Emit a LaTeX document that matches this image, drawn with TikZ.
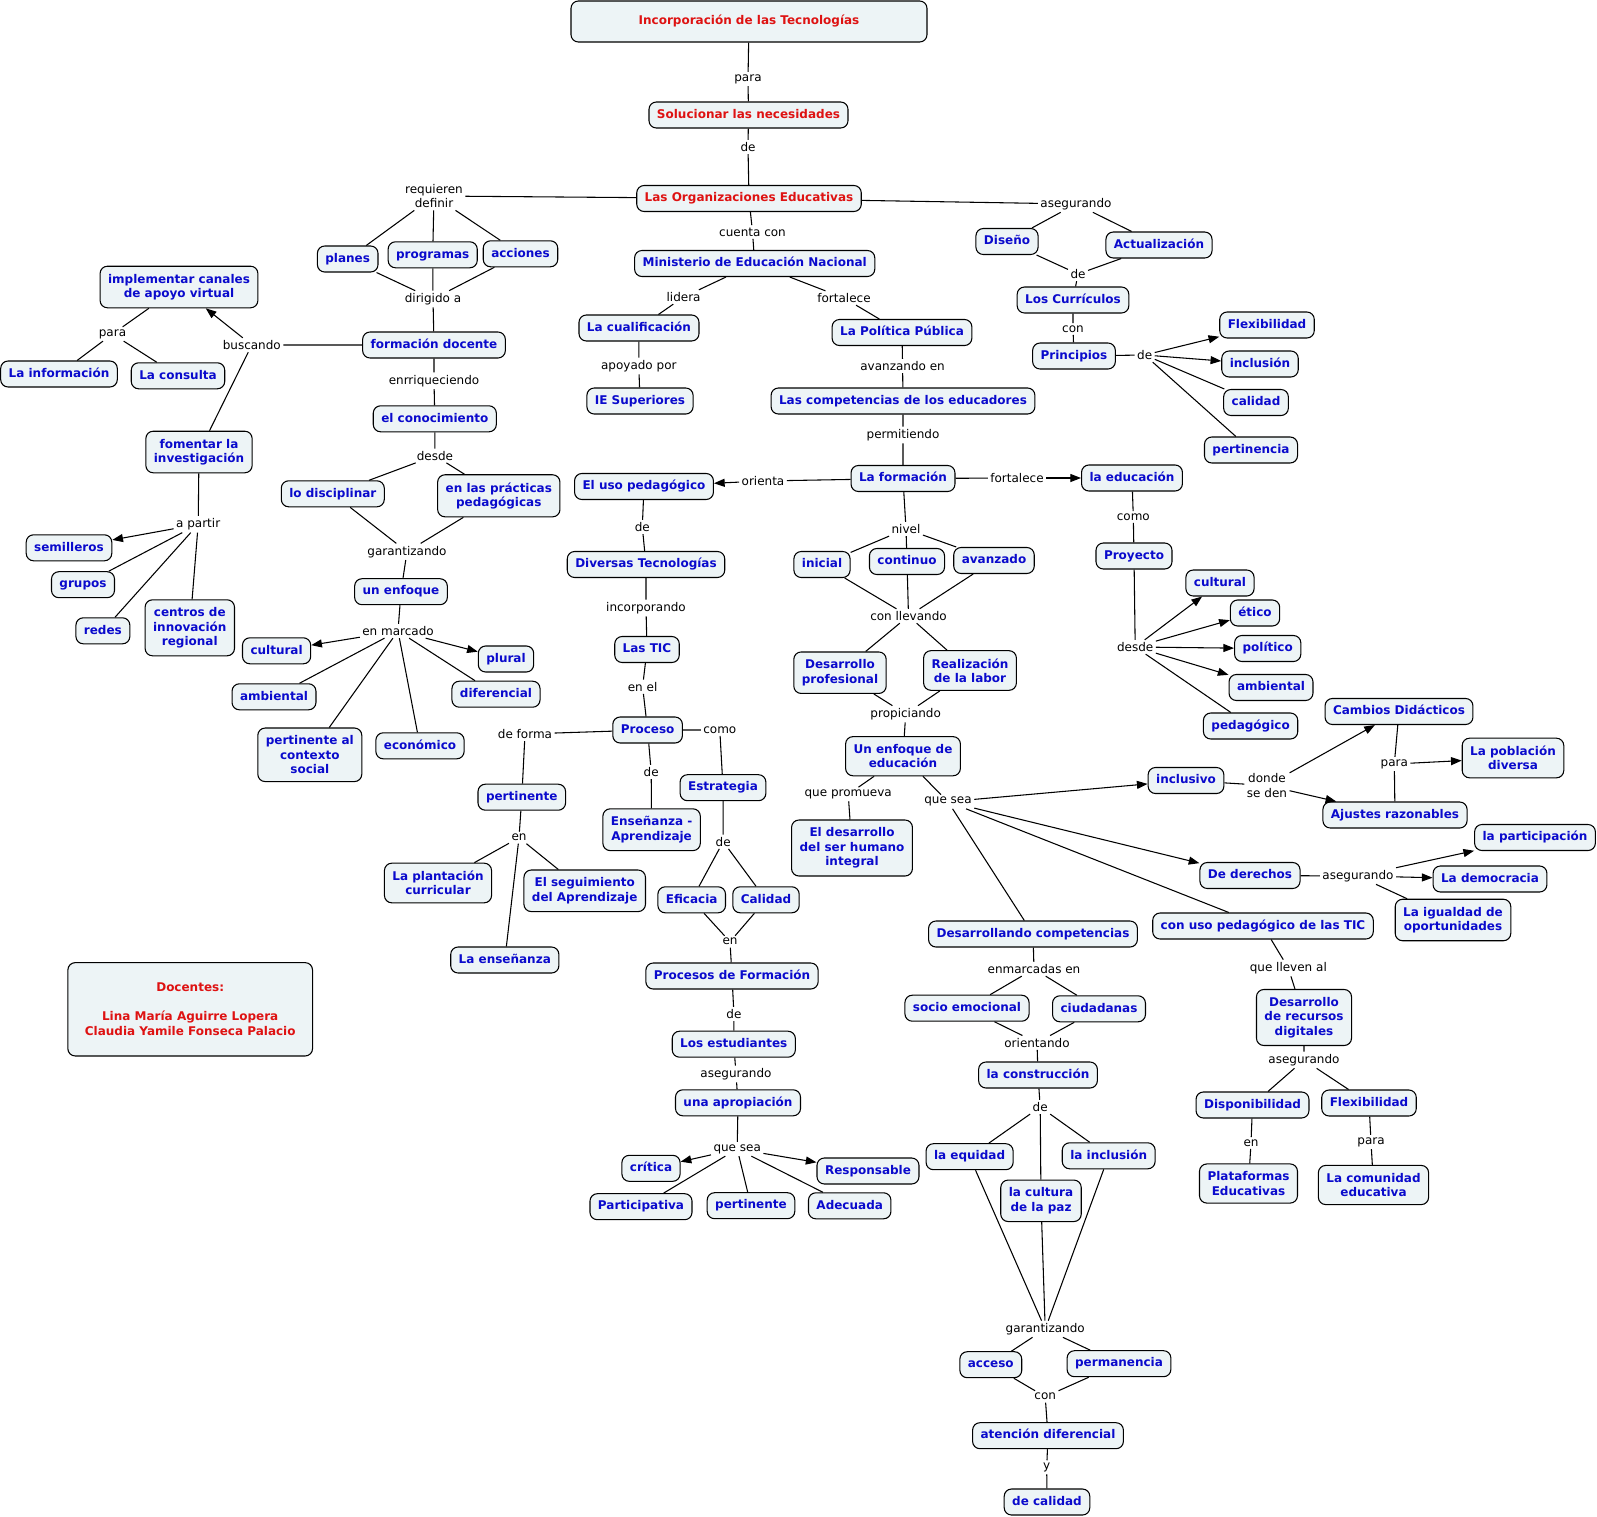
\documentclass[tikz,border=0pt]{standalone}
\usepackage{fontspec}
\setmainfont{DejaVu Sans}
\usetikzlibrary{arrows.meta}

\definecolor{cmapfill}{RGB}{237,244,246}
\definecolor{cmapblue}{RGB}{10,10,204}
\definecolor{cmapred}{RGB}{222,18,18}

\begin{document}
\begin{tikzpicture}[x=0.75pt, y=-0.75pt, line width=0.8pt, >={Triangle[length=8pt,width=6pt]},
    cbox/.style={draw, rounded corners=5.5pt, fill=cmapfill, text=cmapblue, align=center, inner xsep=6pt,
      font=\bfseries\fontsize{9}{10.8}\selectfont},
    concept/.style={cbox, text height=6.9pt, text depth=2pt, inner ysep=5.3pt},
    conceptm/.style={cbox, inner ysep=5.8pt},
    headbox/.style={concept, text=cmapred},
    link/.style={font=\fontsize{9}{10.8}\selectfont, align=center, inner sep=1.5pt}]
        \useasboundingbox (0,0) rectangle (1597,1517);

        % main trunk
        \node[headbox, minimum width=267pt, minimum height=30.75pt] (incorp) at (749,21.5) {Incorporación de las Tecnologías};
        \node[headbox] (soluc) at (748.5,115) {Solucionar las necesidades};
        \node[headbox] (orged) at (749,198.5) {Las Organizaciones Educativas};
        \node[link] (lPara1) at (748,79) {para};
        \node[link] (lDe1) at (748,147) {de};

        % left branch
        \node[link] (lReq) at (434,196) {requieren\\definir};
        \node[concept] (planes) at (347.7,259) {planes};
        \node[concept] (programas) at (432.7,254.8) {programas};
        \node[concept] (acciones) at (520.5,253.8) {acciones};
        \node[link] (lDirig) at (433,299) {dirigido a};
        \node[concept] (formdoc) at (434,345) {formación docente};
        \node[link] (lBusc) at (251.8,345) {buscando};
        \node[conceptm] (implcan) at (179,287) {implementar canales\\de apoyo virtual};
        \node[link] (lPara2) at (112.5,334) {para};
        \node[concept] (lainfo) at (59,374) {La información};
        \node[concept] (consulta) at (178,375.8) {La consulta};
        \node[conceptm] (fomentar) at (199,452) {fomentar la\\investigación};
        \node[link] (lApartir) at (198.2,524.3) {a partir};
        \node[concept] (semilleros) at (69,547.8) {semilleros};
        \node[concept] (grupos) at (83,584.7) {grupos};
        \node[concept] (redes) at (102.9,630.8) {redes};
        \node[conceptm] (centros) at (189.8,627.8) {centros de\\innovación\\regional};
        \node[link] (lEnrr) at (434,380.7) {enrriqueciendo};
        \node[concept] (conocim) at (434.8,418.8) {el conocimiento};
        \node[link] (lDesde1) at (435,455.7) {desde};
        \node[concept] (disciplinar) at (332.8,493.8) {lo disciplinar};
        \node[conceptm] (practicas) at (498.8,495.8) {en las prácticas\\pedagógicas};
        \node[link] (lGarant1) at (407,551.7) {garantizando};
        \node[concept] (unenfoque) at (401,591.7) {un enfoque};
        \node[link] (lEnmarc) at (398,631) {en marcado};
        \node[concept] (cultA) at (276.6,650.8) {cultural};
        \node[concept] (plural) at (506,659) {plural};
        \node[concept] (ambA) at (274,696.8) {ambiental};
        \node[concept] (diferencial) at (496,694.2) {diferencial};
        \node[conceptm] (pertsocial) at (309.8,754.8) {pertinente al\\contexto\\social};
        \node[concept] (economico) at (420,745.8) {económico};
        \node[conceptm, text=cmapred, minimum width=183.5pt, minimum height=70pt] (docentes) at (190.2,1009.3)
            {Docentes:\\[10.8pt]Lina María Aguirre Lopera\\Claudia Yamile Fonseca Palacio};

        % centre branch
        \node[link] (lCuenta) at (752.5,232) {cuenta con};
        \node[concept] (ministerio) at (754.7,263.5) {Ministerio de Educación Nacional};
        \node[link] (lLidera) at (683.6,297) {lidera};
        \node[link] (lFort1) at (844,298) {fortalece};
        \node[concept] (cualif) at (639,328) {La cualificación};
        \node[link] (lApoyado) at (638.8,366) {apoyado por};
        \node[concept] (iesup) at (640,401) {IE Superiores};
        \node[concept] (politica) at (902,332.5) {La Política Pública};
        \node[link] (lAvanz) at (902.6,366) {avanzando en};
        \node[concept] (competencias) at (903,401) {Las competencias de los educadores};
        \node[link] (lPermit) at (903,435) {permitiendo};
        \node[concept] (formacion) at (903,478.5) {La formación};
        \node[link] (lOrienta) at (763,481) {orienta};
        \node[concept] (usoped) at (644,486.5) {El uso pedagógico};
        \node[link] (lDe2) at (642.3,527) {de};
        \node[concept] (diversas) at (646,564.5) {Diversas Tecnologías};
        \node[link] (lIncorp) at (646,608) {incorporando};
        \node[concept] (tic) at (647,649.5) {Las TIC};
        \node[link] (lEnel) at (642.6,686.7) {en el};
        \node[concept] (proceso) at (647.6,730) {Proceso};
        \node[link] (lDeforma) at (525,734) {de forma};
        \node[concept] (pertA) at (521.8,797.2) {pertinente};
        \node[link] (lEn1) at (519,837.7) {en};
        \node[conceptm] (plantacion) at (438,883) {La plantación\\curricular};
        \node[conceptm] (seguim) at (584.7,890.8) {El seguimiento\\del Aprendizaje};
        \node[concept] (ensenanza) at (504.8,960) {La enseñanza};
        \node[link] (lDe3) at (651.2,772) {de};
        \node[conceptm] (ensapr) at (651.6,829.7) {Enseñanza -\\Aprendizaje};
        \node[link] (lComo1) at (719.8,730) {como};
        \node[concept] (estrategia) at (723,787.7) {Estrategia};
        \node[link] (lDe4) at (723.2,841.7) {de};
        \node[concept] (eficacia) at (691.7,899.8) {Eficacia};
        \node[concept] (calidadB) at (766,899.8) {Calidad};
        \node[link] (lEn2) at (730,941.7) {en};
        \node[concept] (procform) at (732,976) {Procesos de Formación};
        \node[link] (lDe5) at (733.9,1014) {de};
        \node[concept] (estudiantes) at (733.8,1044.2) {Los estudiantes};
        \node[link] (lAseg1) at (736,1074) {asegurando};
        \node[concept] (apropiacion) at (738,1102.8) {una apropiación};
        \node[link] (lQuesea1) at (737.2,1149) {que sea};
        \node[concept] (critica) at (651,1168.3) {crítica};
        \node[concept] (responsable) at (868,1171) {Responsable};
        \node[concept] (participativa) at (641,1206.7) {Participativa};
        \node[concept] (pertB) at (751,1205.7) {pertinente};
        \node[concept] (adecuada) at (849.7,1205.8) {Adecuada};

        % formation levels
        \node[link] (lNivel) at (906,529) {nivel};
        \node[concept] (inicial) at (822,564.5) {inicial};
        \node[concept] (continuo) at (907,561.5) {continuo};
        \node[concept] (avanzado) at (994,560.5) {avanzado};
        \node[link] (lConllev) at (908.5,616) {con llevando};
        \node[conceptm] (desprof) at (840,672.7) {Desarrollo\\profesional};
        \node[conceptm] (realiz) at (970,670.5) {Realización\\de la labor};
        \node[link] (lPropic) at (905.7,714) {propiciando};
        \node[conceptm] (enfedu) at (903,756.2) {Un enfoque de\\educación};
        \node[link] (lPromueva) at (848.2,794.3) {que promueva};
        \node[conceptm] (desser) at (852,848) {El desarrollo\\del ser humano\\integral};
        \node[link] (lQuesea2) at (948,801.7) {que sea};
        \node[concept] (desarcomp) at (1033,934) {Desarrollando competencias};
        \node[link] (lEnmarcadas) at (1034,969) {enmarcadas en};
        \node[concept] (socioemo) at (967,1008.2) {socio emocional};
        \node[concept] (ciudadanas) at (1099,1008.8) {ciudadanas};
        \node[link] (lOrient) at (1037,1042.7) {orientando};
        \node[concept] (construccion) at (1038,1075) {la construcción};
        \node[link] (lDe6) at (1040.2,1107) {de};
        \node[concept] (equidad) at (969.6,1156.7) {la equidad};
        \node[concept] (inclusionB) at (1108.7,1155.8) {la inclusión};
        \node[conceptm] (culturapaz) at (1041,1200.8) {la cultura\\de la paz};
        \node[link] (lGarant2) at (1045.2,1329) {garantizando};
        \node[concept] (acceso) at (990.8,1364.7) {acceso};
        \node[concept] (permanencia) at (1119,1363.7) {permanencia};
        \node[link] (lCon1) at (1045.2,1396.7) {con};
        \node[concept] (atencion) at (1048,1435.7) {atención diferencial};
        \node[link] (lY) at (1046.7,1467.3) {y};
        \node[concept] (decalidad) at (1047,1502) {de calidad};

        % right branch
        \node[link] (lAseg4) at (1076,204) {asegurando};
        \node[concept] (diseno) at (1007,241.5) {Diseño};
        \node[concept] (actualiz) at (1159,245) {Actualización};
        \node[link] (lDe7) at (1078,274) {de};
        \node[concept] (curriculos) at (1073,300) {Los Currículos};
        \node[link] (lCon2) at (1073,329) {con};
        \node[concept] (principios) at (1074,356) {Principios};
        \node[link] (lDe8) at (1144.7,355) {de};
        \node[concept] (flexA) at (1267,325) {Flexibilidad};
        \node[concept] (inclusionA) at (1260,364) {inclusión};
        \node[concept] (calidadA) at (1256,402.5) {calidad};
        \node[concept] (pertinencia) at (1251,450) {pertinencia};
        \node[link] (lFort2) at (1017,478) {fortalece};
        \node[concept] (educacion) at (1132,478) {la educación};
        \node[link] (lComo2) at (1133.3,517) {como};
        \node[concept] (proyecto) at (1134,556) {Proyecto};
        \node[link] (lDesde2) at (1135.2,647) {desde};
        \node[concept] (cultB) at (1220,583) {cultural};
        \node[concept] (etico) at (1255,613) {ético};
        \node[concept] (politico) at (1267.7,648.5) {político};
        \node[concept] (ambB) at (1271,687.5) {ambiental};
        \node[concept] (pedagogico) at (1250.6,726) {pedagógico};
        \node[concept] (inclusivo) at (1186,780.5) {inclusivo};
        \node[link] (lDonde) at (1267,785.5) {donde\\se den};
        \node[concept] (cambios) at (1399,711.5) {Cambios Didácticos};
        \node[concept] (ajustes) at (1395,815) {Ajustes razonables};
        \node[link] (lPara3) at (1394.3,764) {para};
        \node[conceptm] (poblacion) at (1513,758) {La población\\diversa};
        \node[concept] (derechos) at (1250,875.5) {De derechos};
        \node[link] (lAseg2) at (1358,876) {asegurando};
        \node[concept] (participacion) at (1535,837.5) {la participación};
        \node[concept] (democracia) at (1490,879) {La democracia};
        \node[conceptm] (igualdad) at (1453,920) {La igualdad de\\oportunidades};
        \node[concept] (usotic) at (1263,926) {con uso pedagógico de las TIC};
        \node[link] (lLleven) at (1288.3,968) {que lleven al};
        \node[conceptm] (desrec) at (1304,1017.5) {Desarrollo\\de recursos\\digitales};
        \node[link] (lAseg3) at (1304,1060) {asegurando};
        \node[concept] (disponib) at (1252.5,1105) {Disponibilidad};
        \node[concept] (flexB) at (1369,1103) {Flexibilidad};
        \node[link] (lEn3) at (1251,1143) {en};
        \node[link] (lPara4) at (1371,1142) {para};
        \node[conceptm] (plataformas) at (1248.5,1183.5) {Plataformas\\Educativas};
        \node[conceptm] (comunidad) at (1373.5,1185) {La comunidad\\educativa};

        % connectors: trunk and left
        \draw (incorp) -- (lPara1) -- (soluc) -- (lDe1) -- (orged);
        \draw (orged) -- (lReq) -- (planes);
        \draw (lReq) -- (programas);
        \draw (lReq) -- (acciones);
        \draw (planes) -- (lDirig);
        \draw (programas) -- (lDirig);
        \draw (acciones) -- (lDirig) -- (formdoc);
        \draw (formdoc) -- (lBusc) -- (fomentar);
        \draw[->] (lBusc) -- (implcan);
        \draw (implcan) -- (lPara2) -- (lainfo);
        \draw (lPara2) -- (consulta);
        \draw (fomentar) -- (lApartir) -- (grupos);
        \draw[->] (lApartir) -- (semilleros);
        \draw (lApartir) -- (redes);
        \draw (lApartir) -- (centros);
        \draw (formdoc) -- (lEnrr) -- (conocim) -- (lDesde1) -- (disciplinar);
        \draw (lDesde1) -- (practicas);
        \draw (disciplinar) -- (lGarant1);
        \draw (practicas) -- (lGarant1) -- (unenfoque) -- (lEnmarc);
        \draw[->] (lEnmarc) -- (cultA);
        \draw[->] (lEnmarc) -- (plural);
        \draw (lEnmarc) -- (ambA);
        \draw (lEnmarc) -- (pertsocial);
        \draw (lEnmarc) -- (economico);
        \draw (lEnmarc) -- (diferencial);

        % connectors: centre
        \draw (orged) -- (lCuenta) -- (ministerio) -- (lLidera) -- (cualif) -- (lApoyado) -- (iesup);
        \draw (ministerio) -- (lFort1) -- (politica) -- (lAvanz) -- (competencias) -- (lPermit) -- (formacion);
        \draw (formacion) -- (lOrienta);
        \draw[->] (lOrienta) -- (usoped);
        \draw (usoped) -- (lDe2) -- (diversas) -- (lIncorp) -- (tic) -- (lEnel) -- (proceso);
        \draw (proceso) -- (lDeforma) -- (pertA) -- (lEn1) -- (plantacion);
        \draw (lEn1) -- (seguim);
        \draw (lEn1) -- (ensenanza);
        \draw (proceso) -- (lDe3) -- (ensapr);
        \draw (proceso) -- (lComo1) -- (estrategia) -- (lDe4) -- (eficacia);
        \draw (lDe4) -- (calidadB);
        \draw (eficacia) -- (lEn2);
        \draw (calidadB) -- (lEn2) -- (procform) -- (lDe5) -- (estudiantes) -- (lAseg1) -- (apropiacion) -- (lQuesea1);
        \draw[->] (lQuesea1) -- (critica);
        \draw[->] (lQuesea1) -- (responsable);
        \draw (lQuesea1) -- (participativa);
        \draw (lQuesea1) -- (pertB);
        \draw (lQuesea1) -- (adecuada);

        \draw (formacion) -- (lNivel) -- (inicial);
        \draw (lNivel) -- (continuo);
        \draw (lNivel) -- (avanzado);
        \draw (inicial) -- (lConllev);
        \draw (continuo) -- (lConllev);
        \draw (avanzado) -- (lConllev) -- (desprof);
        \draw (lConllev) -- (realiz);
        \draw (desprof) -- (lPropic);
        \draw (realiz) -- (lPropic) -- (enfedu) -- (lPromueva) -- (desser);
        \draw (enfedu) -- (lQuesea2);
        \draw[->] (lQuesea2) -- (inclusivo);
        \draw[->] (lQuesea2) -- (derechos);
        \draw (lQuesea2) -- (usotic);
        \draw (lQuesea2) -- (desarcomp);
        \draw (desarcomp) -- (lEnmarcadas) -- (socioemo);
        \draw (lEnmarcadas) -- (ciudadanas);
        \draw (socioemo) -- (lOrient);
        \draw (ciudadanas) -- (lOrient) -- (construccion) -- (lDe6) -- (equidad);
        \draw (lDe6) -- (culturapaz);
        \draw (lDe6) -- (inclusionB);
        \draw (equidad) -- (lGarant2);
        \draw (culturapaz) -- (lGarant2);
        \draw (inclusionB) -- (lGarant2) -- (acceso);
        \draw (lGarant2) -- (permanencia);
        \draw (acceso) -- (lCon1);
        \draw (permanencia) -- (lCon1) -- (atencion) -- (lY) -- (decalidad);

        % connectors: right
        \draw (orged) -- (lAseg4) -- (diseno);
        \draw (lAseg4) -- (actualiz);
        \draw (diseno) -- (lDe7);
        \draw (actualiz) -- (lDe7) -- (curriculos) -- (lCon2) -- (principios) -- (lDe8);
        \draw[->] (lDe8) -- (flexA);
        \draw[->] (lDe8) -- (inclusionA);
        \draw (lDe8) -- (calidadA);
        \draw (lDe8) -- (pertinencia);
        \draw (formacion) -- (lFort2);
        \draw[->] (lFort2) -- (educacion);
        \draw (educacion) -- (lComo2) -- (proyecto) -- (lDesde2);
        \draw[->] (lDesde2) -- (cultB);
        \draw[->] (lDesde2) -- (etico);
        \draw[->] (lDesde2) -- (politico);
        \draw[->] (lDesde2) -- (ambB);
        \draw (lDesde2) -- (pedagogico);
        \draw (inclusivo) -- (lDonde);
        \draw[->] (lDonde) -- (cambios);
        \draw[->] (lDonde) -- (ajustes);
        \draw (cambios) -- (lPara3);
        \draw (ajustes) -- (lPara3);
        \draw[->] (lPara3) -- (poblacion);
        \draw (derechos) -- (lAseg2);
        \draw[->] (lAseg2) -- (participacion);
        \draw[->] (lAseg2) -- (democracia);
        \draw (lAseg2) -- (igualdad);
        \draw (usotic) -- (lLleven) -- (desrec) -- (lAseg3) -- (disponib) -- (lEn3) -- (plataformas);
        \draw (lAseg3) -- (flexB) -- (lPara4) -- (comunidad);
    \end{tikzpicture}
\end{document}
